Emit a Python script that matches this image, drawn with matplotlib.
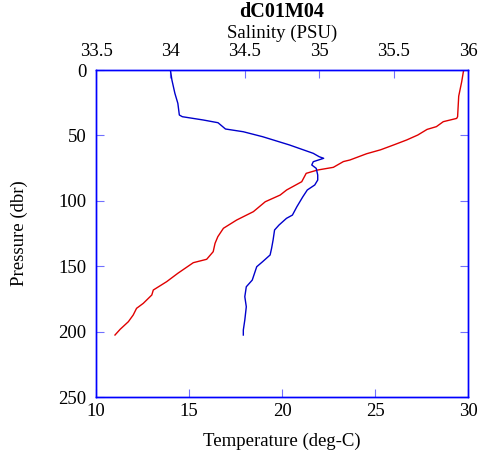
import matplotlib
matplotlib.use('Agg')
import matplotlib.pyplot as plt

plt.rcParams['font.family'] = ['Liberation Serif', 'DejaVu Serif']

# temperature profile (deg-C) vs pressure (dbr)
temp_p = [0, 1.3, 9, 20, 35.7, 37, 39.5, 43.3, 45.4, 49.7, 53.5, 57.3, 61, 64, 68.8,
          70, 74.4, 76.5, 79, 85.4, 91.7, 95.6, 100.7, 108.3, 114.7, 121, 127.4,
          132.5, 138.9, 144.7, 147.3, 155.4, 161.8, 168.2, 172, 178.4, 182.2,
          187.3, 192.4, 198.2, 202.6]
temp = [29.78, 29.75, 29.66, 29.5, 29.44, 29.39, 28.67, 28.3, 27.8, 27.3, 26.7, 26.0,
        25.3, 24.55, 23.65, 23.3, 22.76, 21.9, 21.3, 21.06, 20.25, 19.9, 19.1, 18.46,
        17.56, 16.85, 16.55, 16.4, 16.3, 15.95, 15.23, 14.4, 13.8, 13.08, 13.0, 12.54,
        12.18, 12.0, 11.74, 11.3, 11.02]

# salinity profile (PSU) vs pressure (dbr)
sal_p = [0, 7.6, 17.8, 25.5, 34.4, 35.7, 38.2, 40.3, 45.1, 47.2, 51, 57.3, 63.7, 66.3,
         67.5, 70.1, 72.6, 75.2, 80.3, 84.1, 87.9, 91.7, 96.9, 100.7, 104.5, 110.9,
         113.4, 118.5, 122.3, 130, 136.3, 141.4, 146.5, 150.4, 160.6, 165.7, 173.3,
         181, 191.1, 198.8, 202.6]
sal = [34.0, 34.01, 34.03, 34.05, 34.06, 34.08, 34.22, 34.32, 34.37, 34.49, 34.62,
       34.80, 34.96, 35.0, 35.03, 34.96, 34.95, 34.98, 34.99, 34.99, 34.97, 34.92,
       34.89, 34.87, 34.85, 34.82, 34.78, 34.73, 34.70, 34.69, 34.68, 34.67, 34.62,
       34.58, 34.55, 34.51, 34.50, 34.51, 34.50, 34.49, 34.49]

temp_ticks = [10, 15, 20, 25, 30]
sal_ticks = [33.5, 34, 34.5, 35, 35.5, 36]
p_ticks = [0, 50, 100, 150, 200, 250]

fig = plt.figure(figsize=(4.81, 4.63), dpi=100)
ax = fig.add_axes([0.1996, 0.1425, 0.7734, 0.7063])
ax.plot(temp, temp_p, color='#e00000', linewidth=1)
ax.set_xlim(10, 30)
ax.set_ylim(250, 0)
ax.set_xticks(temp_ticks)
ax.set_yticks(p_ticks)
ax.set_xlabel('Temperature (deg-C)', fontsize=13.5)
ax.xaxis.set_label_coords(0.5, -0.11)
ax.set_ylabel('Pressure (dbr)', fontsize=13.5)
ax.yaxis.set_label_coords(-0.183, 0.5)

ax2 = ax.twiny()
ax2.plot(sal, sal_p, color='#0000cc', linewidth=1)
ax2.set_xlim(33.5, 36)
ax2.set_xticks(sal_ticks)
ax2.set_xticklabels(['33.5', '34', '34.5', '35', '35.5', '36'])
ax2.set_xlabel('Salinity (PSU)', fontsize=13.5)
ax2.xaxis.set_label_coords(0.5, 1.098)
fig.text(0.5863, 0.974, 'dC01M04', fontsize=14.5, fontweight='bold',
         ha='center', va='center')

for a in (ax, ax2):
    for s in a.spines.values():
        s.set_color('#0000ff')
        s.set_linewidth(1)
    a.tick_params(direction='in', length=6, color='#7070ff', labelsize=13.5)
ax.tick_params(axis='x', pad=4)
ax.tick_params(axis='y', right=True, pad=7)
ax2.tick_params(axis='x', pad=7)

fig.savefig('out.png', dpi=100)
